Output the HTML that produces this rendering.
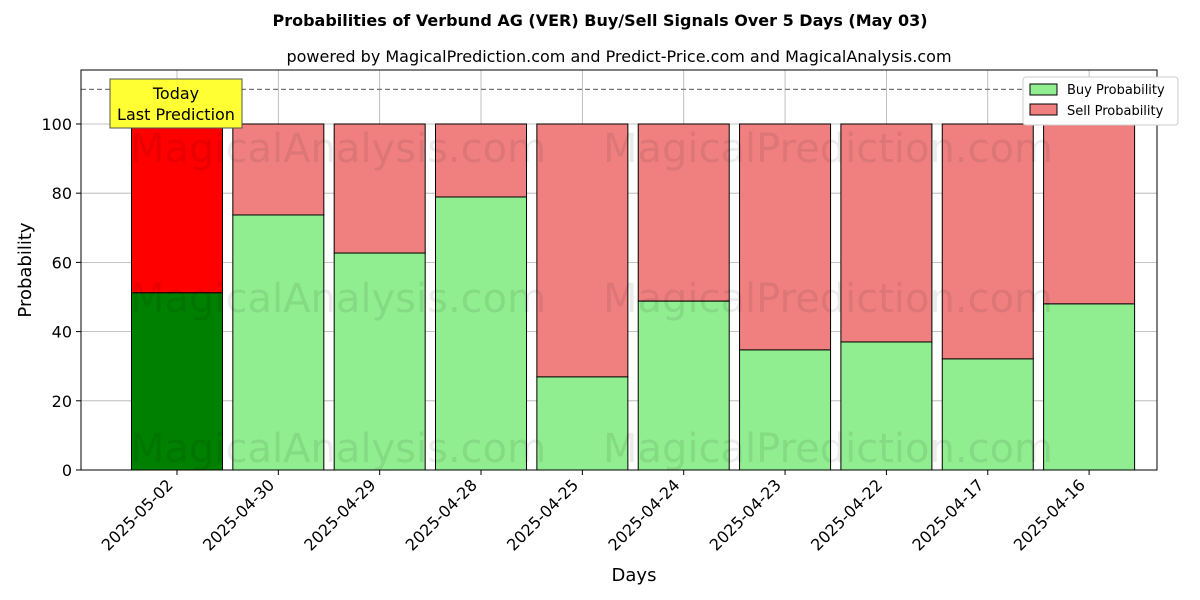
<!DOCTYPE html>
<html><head><meta charset="utf-8"><style>body{margin:0;background:#fff}svg{display:block;font-family:"DejaVu Sans","Liberation Sans",sans-serif}</style></head>
<body>
<svg id="chart" width="1200" height="600">
<text x="600" y="26" text-anchor="middle" font-size="16" font-weight="bold">Probabilities of Verbund AG (VER) Buy/Sell Signals Over 5 Days (May 03)</text>
<text x="619" y="62" text-anchor="middle" font-size="16">powered by MagicalPrediction.com and Predict-Price.com and MagicalAnalysis.com</text>
<g id="grid"></g>
<g id="bars"></g>
<g font-size="40" fill="#000" fill-opacity="0.08">
<text x="130" y="162">MagicalAnalysis.com</text><text x="603" y="162">MagicalPrediction.com</text>
<text x="130" y="312">MagicalAnalysis.com</text><text x="603" y="312">MagicalPrediction.com</text>
<text x="130" y="462">MagicalAnalysis.com</text><text x="603" y="462">MagicalPrediction.com</text>
</g>
<line x1="81" x2="1157" id="dash" stroke="#777" stroke-dasharray="5,3" stroke-width="1.2"/>
<rect x="81" y="70" width="1076" height="400" fill="none" stroke="#000"/>
<g id="axes" font-size="16"></g>
<text x="634" y="581" text-anchor="middle" font-size="18">Days</text>
<text transform="translate(31,270) rotate(-90)" text-anchor="middle" font-size="18">Probability</text>
<g>
<rect x="110" y="79" width="132" height="49" fill="#ffff33" stroke="#555"/>
<text x="176" y="99" text-anchor="middle" font-size="16">Today</text>
<text x="176" y="120" text-anchor="middle" font-size="16">Last Prediction</text>
</g>
<g>
<rect x="1023" y="77" width="155" height="48" fill="#fff" stroke="#ccc" rx="3"/>
<rect x="1030" y="84" width="27" height="11" fill="#90ee90" stroke="#000"/>
<text x="1067" y="94" font-size="13">Buy Probability</text>
<rect x="1030" y="104" width="27" height="11" fill="#f08080" stroke="#000"/>
<text x="1067" y="115" font-size="13">Sell Probability</text>
</g>
</svg>
<script>
const categories=["2025-05-02","2025-04-30","2025-04-29","2025-04-28","2025-04-25","2025-04-24","2025-04-23","2025-04-22","2025-04-17","2025-04-16"];
const buyValues=[51.2,73.7,62.7,78.9,26.9,48.8,34.7,37.0,32.1,48.0];
const yTicks=[0,20,40,60,80,100];
const thresholdValue=110;
const NS="http://www.w3.org/2000/svg";
const L=81,R=1157,T=70,B=470,yMax=115.6,xMin=-0.947,xMax=9.67;
const y=v=>B-(v/yMax)*(B-T);
const x=i=>L+(i-xMin)/(xMax-xMin)*(R-L);
const bw=91;
function mk(tag,attrs,parent){const e=document.createElementNS(NS,tag);for(const k in attrs)e.setAttribute(k,attrs[k]);parent.appendChild(e);return e;}
const grid=document.getElementById('grid'),bars=document.getElementById('bars'),axes=document.getElementById('axes');
yTicks.forEach(t=>{
  const g=mk('line',{x1:L,x2:R,y1:y(t),y2:y(t),stroke:'#b0b0b0','stroke-width':0.8},grid);
  
  
  mk('line',{x1:L-5,x2:L,y1:y(t),y2:y(t),stroke:'#000'},axes);
  const tx=mk('text',{x:L-9,y:y(t)+6,'text-anchor':'end'},axes);tx.textContent=t;
  
  
});
categories.forEach((c,i)=>{
  const cx=x(i);
  const g=mk('line',{x1:cx,x2:cx,y1:T,y2:B,stroke:'#b0b0b0','stroke-width':0.8},grid);
  
  
  const b=buyValues[i],today=i===0;
  const s=mk('rect',{x:cx-bw/2,y:y(100),width:bw,height:y(b)-y(100),fill:today?'#ff0000':'#f08080',stroke:'#000'},bars);
  
  
  const r=mk('rect',{x:cx-bw/2,y:y(b),width:bw,height:B-y(b),fill:today?'#008000':'#90ee90',stroke:'#000'},bars);
  
  
  mk('line',{x1:cx,x2:cx,y1:B,y2:B+5,stroke:'#000'},axes);
  const tx=mk('text',{transform:`translate(${cx-3},${B+16}) rotate(-45)`,'text-anchor':'end'},axes);tx.textContent=c;
  
  
});
const d=document.getElementById('dash');d.setAttribute('y1',y(thresholdValue));d.setAttribute('y2',y(thresholdValue));
</script>
</body></html>
